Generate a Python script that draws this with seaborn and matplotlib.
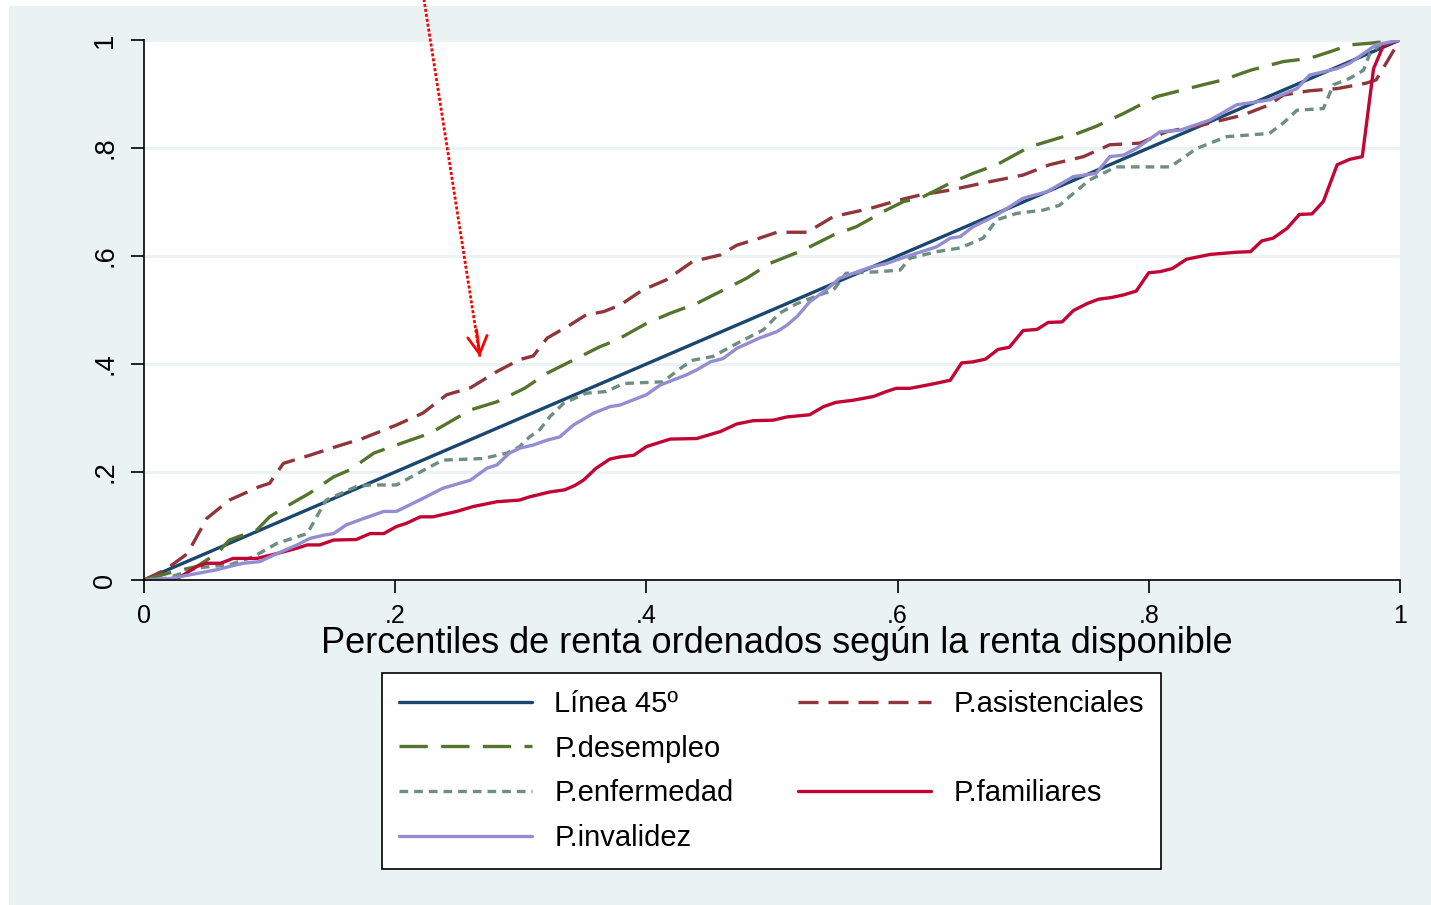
import matplotlib
matplotlib.use("Agg")
import matplotlib.pyplot as plt
from matplotlib.lines import Line2D
from matplotlib.patches import Rectangle
import seaborn as sns

# series (x = percentile share, y = cumulative share)
line45_x = [0, 1]
line45_y = [0, 1]

asis_x = [0, 0.017, 0.033, 0.037, 0.050, 0.068, 0.092, 0.100, 0.111, 0.132, 0.153, 0.174, 0.201,
          0.222, 0.241, 0.260, 0.281, 0.299, 0.310, 0.321, 0.339, 0.352, 0.366, 0.379, 0.397, 0.416,
          0.437, 0.459, 0.472, 0.490, 0.504, 0.528, 0.549, 0.578, 0.602, 0.618, 0.642, 0.668, 0.700,
          0.721, 0.748, 0.769, 0.793, 0.814, 0.843, 0.875, 0.896, 0.907, 0.928, 0.950, 0.973, 0.981,
          0.989, 1]
asis_y = [0, 0.019, 0.046, 0.059, 0.114, 0.148, 0.173, 0.179, 0.216, 0.231, 0.247, 0.262, 0.287,
          0.309, 0.343, 0.356, 0.386, 0.408, 0.415, 0.448, 0.472, 0.491, 0.497, 0.509, 0.537, 0.556,
          0.590, 0.602, 0.620, 0.633, 0.644, 0.644, 0.673, 0.688, 0.704, 0.713, 0.722, 0.735, 0.750,
          0.769, 0.784, 0.806, 0.809, 0.830, 0.843, 0.861, 0.880, 0.898, 0.906, 0.910, 0.920, 0.926,
          0.957, 1]

desem_x = [0, 0.023, 0.042, 0.058, 0.068, 0.090, 0.100, 0.111, 0.132, 0.151, 0.164, 0.183, 0.201,
           0.228, 0.260, 0.281, 0.303, 0.321, 0.339, 0.363, 0.376, 0.400, 0.419, 0.440, 0.451, 0.480,
           0.498, 0.525, 0.549, 0.567, 0.591, 0.605, 0.618, 0.642, 0.660, 0.679, 0.705, 0.732, 0.740,
           0.758, 0.780, 0.806, 0.843, 0.859, 0.881, 0.907, 0.928, 0.944, 0.960, 0.976, 1]
desem_y = [0, 0.015, 0.025, 0.049, 0.074, 0.093, 0.117, 0.133, 0.161, 0.191, 0.204, 0.235, 0.250,
           0.272, 0.315, 0.330, 0.355, 0.383, 0.404, 0.432, 0.444, 0.475, 0.494, 0.512, 0.525, 0.559,
           0.586, 0.611, 0.639, 0.654, 0.685, 0.701, 0.707, 0.735, 0.753, 0.769, 0.802, 0.821, 0.824,
           0.840, 0.864, 0.895, 0.917, 0.926, 0.944, 0.960, 0.966, 0.978, 0.991, 0.994, 1]

enfer_x = [0, 0.018, 0.042, 0.053, 0.068, 0.087, 0.106, 0.122, 0.130, 0.145, 0.169, 0.180, 0.201,
           0.228, 0.238, 0.270, 0.289, 0.299, 0.307, 0.315, 0.323, 0.334, 0.352, 0.368, 0.382, 0.413,
           0.429, 0.437, 0.453, 0.472, 0.493, 0.506, 0.520, 0.538, 0.549, 0.559, 0.586, 0.602, 0.610,
           0.631, 0.650, 0.668, 0.679, 0.695, 0.716, 0.729, 0.740, 0.753, 0.774, 0.817, 0.827, 0.838,
           0.862, 0.896, 0.907, 0.918, 0.939, 0.947, 0.960, 0.971, 0.976, 0.984, 1]
enfer_y = [0, 0.003, 0.022, 0.025, 0.028, 0.043, 0.068, 0.080, 0.086, 0.148, 0.173, 0.176, 0.176,
           0.210, 0.222, 0.225, 0.235, 0.247, 0.265, 0.278, 0.302, 0.327, 0.346, 0.349, 0.364, 0.367,
           0.395, 0.407, 0.414, 0.438, 0.463, 0.494, 0.512, 0.528, 0.537, 0.568, 0.571, 0.574, 0.596,
           0.608, 0.615, 0.633, 0.667, 0.679, 0.685, 0.694, 0.716, 0.741, 0.765, 0.765, 0.781, 0.799,
           0.821, 0.827, 0.846, 0.870, 0.873, 0.917, 0.929, 0.944, 0.975, 0.991, 1]

famil_x = [0, 0.021, 0.029, 0.042, 0.050, 0.061, 0.071, 0.090, 0.106, 0.122, 0.130, 0.140, 0.151,
           0.169, 0.180, 0.191, 0.201, 0.209, 0.220, 0.230, 0.249, 0.262, 0.281, 0.299, 0.307, 0.323,
           0.335, 0.343, 0.350, 0.360, 0.371, 0.379, 0.390, 0.400, 0.419, 0.440, 0.459, 0.472, 0.485,
           0.501, 0.512, 0.530, 0.541, 0.551, 0.565, 0.581, 0.591, 0.599, 0.610, 0.628, 0.642, 0.651,
           0.660, 0.670, 0.680, 0.689, 0.700, 0.711, 0.720, 0.731, 0.740, 0.751, 0.760, 0.770, 0.780,
           0.790, 0.800, 0.809, 0.819, 0.830, 0.849, 0.870, 0.881, 0.890, 0.899, 0.910, 0.920, 0.930,
           0.939, 0.950, 0.960, 0.970, 0.979, 0.987, 1]
famil_y = [0, 0.0, 0.006, 0.025, 0.031, 0.031, 0.040, 0.040, 0.049, 0.059, 0.065, 0.065, 0.074,
           0.075, 0.086, 0.086, 0.099, 0.105, 0.117, 0.117, 0.127, 0.136, 0.145, 0.148, 0.154, 0.163,
           0.167, 0.175, 0.185, 0.207, 0.224, 0.228, 0.231, 0.247, 0.261, 0.262, 0.275, 0.289, 0.295,
           0.296, 0.302, 0.306, 0.321, 0.329, 0.333, 0.340, 0.349, 0.355, 0.355, 0.363, 0.370, 0.402,
           0.404, 0.409, 0.427, 0.431, 0.462, 0.464, 0.477, 0.478, 0.499, 0.512, 0.520, 0.523, 0.528,
           0.535, 0.569, 0.571, 0.577, 0.594, 0.603, 0.607, 0.608, 0.628, 0.633, 0.651, 0.677, 0.678,
           0.701, 0.769, 0.779, 0.784, 0.947, 0.991, 1]

inval_x = [0, 0.021, 0.042, 0.058, 0.068, 0.079, 0.092, 0.106, 0.122, 0.132, 0.143, 0.151, 0.161,
           0.175, 0.191, 0.201, 0.222, 0.238, 0.260, 0.273, 0.281, 0.291, 0.299, 0.310, 0.321, 0.331,
           0.342, 0.358, 0.371, 0.379, 0.400, 0.411, 0.432, 0.440, 0.451, 0.461, 0.472, 0.490, 0.504,
           0.512, 0.520, 0.530, 0.543, 0.554, 0.578, 0.591, 0.607, 0.631, 0.642, 0.650, 0.660, 0.679,
           0.700, 0.719, 0.740, 0.758, 0.769, 0.780, 0.790, 0.809, 0.825, 0.849, 0.870, 0.896, 0.918,
           0.928, 0.950, 0.960, 0.971, 0.981, 1]
inval_y = [0, 0.003, 0.012, 0.019, 0.025, 0.031, 0.034, 0.049, 0.065, 0.077, 0.083, 0.086, 0.102,
           0.114, 0.127, 0.127, 0.151, 0.170, 0.185, 0.207, 0.213, 0.235, 0.244, 0.250, 0.259, 0.265,
           0.287, 0.309, 0.321, 0.324, 0.343, 0.361, 0.380, 0.389, 0.404, 0.410, 0.429, 0.448, 0.460,
           0.472, 0.488, 0.515, 0.537, 0.559, 0.579, 0.586, 0.599, 0.617, 0.633, 0.636, 0.654, 0.676,
           0.707, 0.719, 0.747, 0.753, 0.784, 0.787, 0.799, 0.830, 0.833, 0.852, 0.880, 0.889, 0.910,
           0.935, 0.947, 0.957, 0.975, 0.991, 1]

ticks = [0, 0.2, 0.4, 0.6, 0.8, 1]
tick_labels = ["0", ".2", ".4", ".6", ".8", "1"]

# stata s2color palette
bg = "#eaf2f3"
navy = "#1a476f"
maroon = "#90353b"
forest = "#55752f"
teal = "#6e8e84"
cranberry = "#c10534"
lavender = "#938dd2"

sns.set_style("white")
plt.rcParams["font.family"] = ["Liberation Sans", "DejaVu Sans"]
plt.rcParams["text.color"] = "black"
plt.rcParams["axes.labelcolor"] = "black"
plt.rcParams["xtick.color"] = "black"
plt.rcParams["ytick.color"] = "black"

fig = plt.figure(figsize=(14.31, 9.05), dpi=100, facecolor="white")
fig.add_artist(Rectangle((0.0063, 0), 1, 0.9934, transform=fig.transFigure,
                         facecolor=bg, edgecolor="none", zorder=-10))
ax = fig.add_axes([0.1006, 0.3591, 0.8777, 0.5967])
ax.set_facecolor("white")

lw = 2.4
sns.lineplot(x=line45_x, y=line45_y, ax=ax, color=navy, lw=lw, label="Línea 45º")
sns.lineplot(x=asis_x, y=asis_y, ax=ax, color=maroon, lw=lw, linestyle=(0, (6, 3)),
             label="P.asistenciales", sort=False)
sns.lineplot(x=desem_x, y=desem_y, ax=ax, color=forest, lw=lw, linestyle=(0, (8.5, 4)),
             label="P.desempleo", sort=False)
sns.lineplot(x=enfer_x, y=enfer_y, ax=ax, color=teal, lw=lw, linestyle=(0, (2.6, 1.8)),
             label="P.enfermedad", sort=False)
sns.lineplot(x=famil_x, y=famil_y, ax=ax, color=cranberry, lw=lw, label="P.familiares", sort=False)
sns.lineplot(x=inval_x, y=inval_y, ax=ax, color=lavender, lw=lw, label="P.invalidez", sort=False)

ax.set_xlim(0, 1)
ax.set_ylim(0, 1)
ax.set_xticks(ticks)
ax.set_xticklabels(tick_labels)
ax.set_yticks(ticks)
ax.set_yticklabels(tick_labels, rotation=90, va="center")
ax.yaxis.grid(True, color=bg, lw=2)
ax.xaxis.grid(False)
ax.set_axisbelow(True)
for side in ["top", "right"]:
    ax.spines[side].set_visible(False)
for side in ["left", "bottom"]:
    ax.spines[side].set_color("black")
    ax.spines[side].set_linewidth(1.2)
ax.tick_params(axis="both", direction="out", length=9.5, width=1.2, color="black",
               labelcolor="black", left=True, bottom=True)
ax.tick_params(axis="x", labelsize=18, pad=8)
ax.tick_params(axis="y", labelsize=19.5, pad=9)
ax.set_xlabel("Percentiles de renta ordenados según la renta disponible", fontsize=26,
              labelpad=0, color="black")
ax.xaxis.set_label_coords(0.504, -0.085)
ax.set_ylabel("")

# red dotted arrow pointing at the asistenciales curve
tip = (0.2675, 0.4135)
start = (0.2226, 1.08)
ax.plot([start[0], tip[0]], [start[1], tip[1]], color="red", lw=2,
        linestyle=(0, (1.1, 0.7)), clip_on=False, zorder=5)
ax.annotate("", xy=tip, xytext=(tip[0] - 0.0027, tip[1] + 0.05),
            arrowprops=dict(arrowstyle="->,head_length=1.25,head_width=0.7", color="red",
                            lw=2, mutation_scale=10, shrinkA=0, shrinkB=0),
            annotation_clip=False, zorder=5)

# legend laid out column-wise with empty slots as in the original
h, l = ax.get_legend_handles_labels()
hd = dict(zip(l, h))
blank = Line2D([], [], color="none")
handles = [hd["Línea 45º"], hd["P.desempleo"], hd["P.enfermedad"], hd["P.invalidez"],
           hd["P.asistenciales"], blank, hd["P.familiares"], blank]
labels = ["Línea 45º", "P.desempleo", "P.enfermedad", "P.invalidez",
          "P.asistenciales", "", "P.familiares", ""]
leg = ax.legend(handles, labels, ncol=2, loc="center", bbox_to_anchor=(0.5391, 0.1481),
                bbox_transform=fig.transFigure, fontsize=21, frameon=True, fancybox=False,
                edgecolor="black", framealpha=1, handlelength=4.55, handletextpad=0.78,
                columnspacing=2.2, labelspacing=0.57, borderpad=0.6)
leg.get_frame().set_linewidth(1.2)
for t in leg.get_texts():
    t.set_color("black")

fig.savefig("out.png", dpi=100, facecolor=fig.get_facecolor())
